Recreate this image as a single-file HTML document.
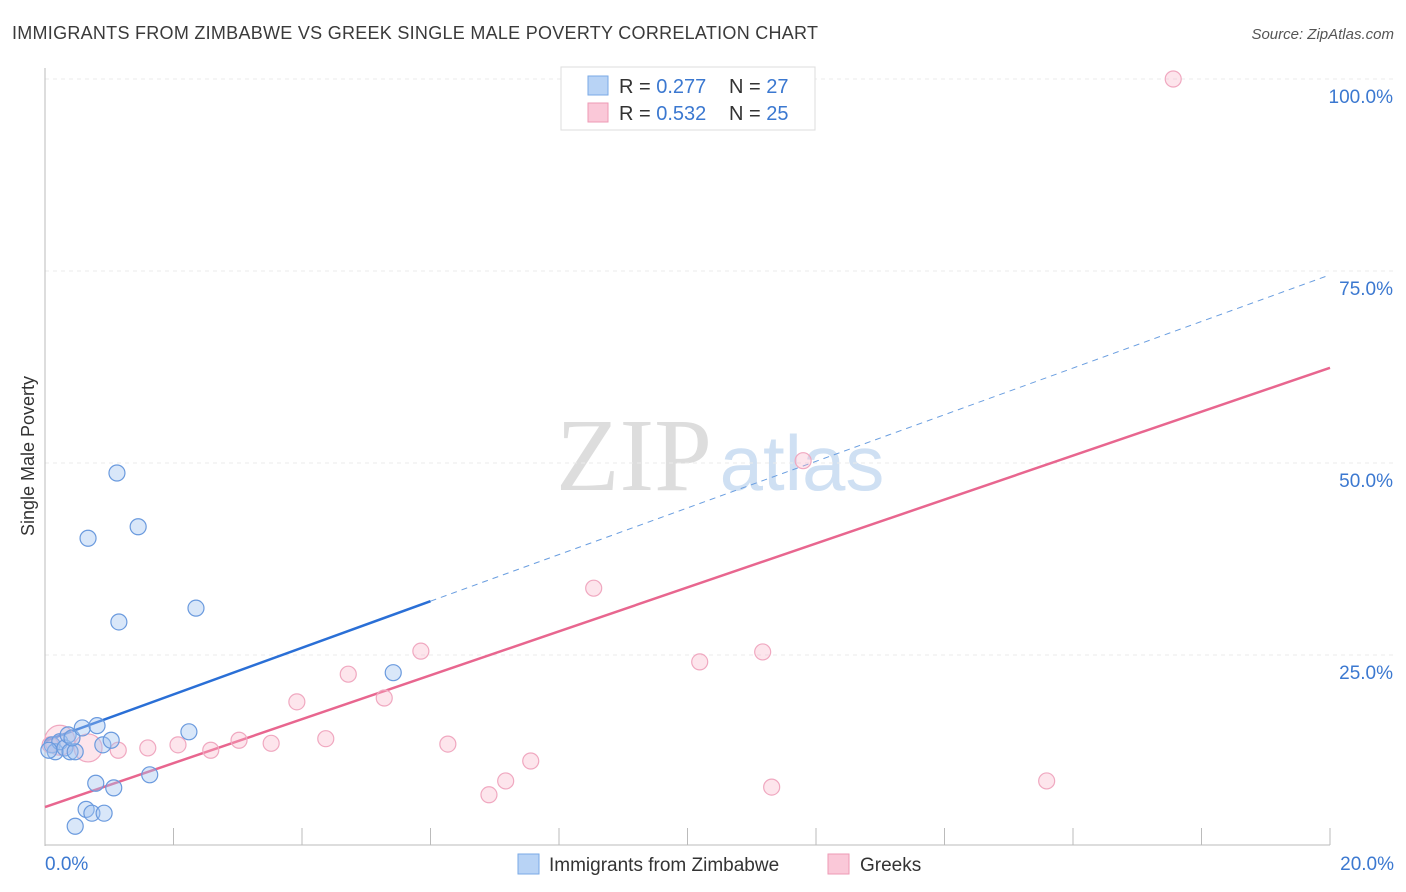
<!DOCTYPE html>
<html><head><meta charset="utf-8"><style>
body{margin:0;background:#fff;font-family:"Liberation Sans",sans-serif;}
svg{display:block}
</style></head><body>
<svg id="chart" width="1406" height="892" xmlns="http://www.w3.org/2000/svg">
<text x="12" y="39" font-size="18" fill="#3a3a3a" textLength="806">IMMIGRANTS FROM ZIMBABWE VS GREEK SINGLE MALE POVERTY CORRELATION CHART</text>
<text x="1394" y="39" font-size="15" fill="#555" font-style="italic" text-anchor="end">Source: ZipAtlas.com</text>
<text x="34" y="456" font-size="18" fill="#333" text-anchor="middle" transform="rotate(-90 34 456)">Single Male Poverty</text>
<g>
<text x="634" y="490" font-size="104" fill="#ddd" font-family="Liberation Serif,serif" text-anchor="middle">ZIP</text>
<text x="802" y="490" font-size="78" fill="#cfe0f3" text-anchor="middle">atlas</text>
</g>
<g id="grid"></g><g id="axes"></g><g id="trend"></g><g id="pts"></g>
<g>
<rect x="561" y="67" width="254" height="63" fill="#fff" stroke="#ddd"/>
<rect x="588" y="76" width="20" height="19" fill="#b8d3f5" stroke="#7aaae6"/>
<rect x="588" y="103" width="20" height="19" fill="#fac8d8" stroke="#ee9ab5"/>
<text x="619" y="93" font-size="20" fill="#333">R = <tspan fill="#3b78d0">0.277</tspan></text>
<text x="729" y="93" font-size="20" fill="#333">N = <tspan fill="#3b78d0">27</tspan></text>
<text x="619" y="120" font-size="20" fill="#333">R = <tspan fill="#3b78d0">0.532</tspan></text>
<text x="729" y="120" font-size="20" fill="#333">N = <tspan fill="#3b78d0">25</tspan></text>
</g>
<g>
<rect x="518" y="854" width="21" height="20" fill="#b8d3f5" stroke="#7aaae6"/>
<text x="549" y="871" font-size="19" fill="#333">Immigrants from Zimbabwe</text>
<rect x="828" y="854" width="21" height="20" fill="#fac8d8" stroke="#ee9ab5"/>
<text x="860" y="871" font-size="19" fill="#333">Greeks</text>
</g>
</svg>
<script>
const blueX=[0.11,0.16,0.23,0.31,0.39,0.47,0.36,0.42,0.58,0.81,0.90,0.67,1.12,1.45,1.15,2.35,5.42,2.24,1.03,1.63,0.79,1.07,0.64,0.73,0.92,0.47,0.06];
const blueY=[13.3,12.4,13.7,12.9,12.4,12.4,14.6,14.2,15.5,15.8,13.3,40.2,48.7,41.7,29.3,31.1,22.7,15.0,13.9,9.4,8.3,7.7,4.9,4.4,4.4,2.7,12.6];
const pinkX=[0.23,0.67,1.14,1.60,2.07,2.58,3.02,3.52,3.92,4.72,4.37,5.28,5.85,6.27,6.91,7.17,7.56,8.54,10.19,11.17,11.31,11.80,15.59,17.56,0.08];
const pinkY=[13.9,12.9,12.6,12.9,13.3,12.6,13.9,13.5,18.9,22.5,14.1,19.4,25.5,13.4,6.8,8.6,11.2,33.7,24.1,25.4,7.8,50.3,8.6,100,13.3];
const pinkR=[15,14,8,8,8,8,8,8,8,8,8,8,8,8,8,8,8,8,8,8,8,8,8,8,8];
const yTicks=[25,50,75,100];
const xTickLabels=["0.0%","20.0%"];
const blueTrend=[13.8,74.5], blueSolidEnd=6.0;
const pinkTrend=[5.2,62.4];
const NS="http://www.w3.org/2000/svg";
const sx=v=>45+v/20*1285, sy=v=>847-v/100*768;
function mk(p,t,a){const e=document.createElementNS(NS,t);for(const k in a)e.setAttribute(k,a[k]);p.appendChild(e);return e;}
const grid=document.getElementById('grid'),axes=document.getElementById('axes'),tr=document.getElementById('trend'),pts=document.getElementById('pts');
yTicks.forEach(t=>{
 const l=mk(grid,'line',{x1:45,x2:1394,y1:sy(t),y2:sy(t),stroke:'#ebebeb','stroke-dasharray':'4 4'});
 
 
 const tx=mk(grid,'text',{x:1393,y:sy(t)+24,'font-size':19,fill:'#3b78d0','text-anchor':'end'});
 tx.textContent=t.toFixed(1)+'%';
 
 
});
const ax=mk(axes,'line',{x1:45,x2:45,y1:68,y2:846,stroke:'#bbb'});


const bx=mk(axes,'line',{x1:45,x2:1330,y1:845,y2:845,stroke:'#bbb'});


for(let i=0;i<=10;i++){const x=sx(i*2);const t=mk(axes,'line',{x1:x,x2:x,y1:828,y2:845,stroke:'#bbb'});
 
 }
[[0,45,'start'],[20,1394,'end']].forEach((d,i)=>{const t=mk(axes,'text',{x:d[1],y:870,'font-size':19,fill:'#3b78d0','text-anchor':d[2]});t.textContent=xTickLabels[i];
 
 });
const ly=(tr0,x)=>tr0[0]+(tr0[1]-tr0[0])*x/20;
let l1=mk(tr,'line',{x1:sx(0),y1:sy(ly(blueTrend,0)),x2:sx(blueSolidEnd),y2:sy(ly(blueTrend,blueSolidEnd)),stroke:'#2a6fd6','stroke-width':2.5});


let l2=mk(tr,'line',{x1:sx(blueSolidEnd),y1:sy(ly(blueTrend,blueSolidEnd)),x2:sx(20),y2:sy(ly(blueTrend,20)),stroke:'#6a9ee0','stroke-width':1,'stroke-dasharray':'6 5'});


let l3=mk(tr,'line',{x1:sx(0),y1:sy(pinkTrend[0]),x2:sx(20),y2:sy(pinkTrend[1]),stroke:'#e8668f','stroke-width':2.5});


pinkX.forEach((x,i)=>{const c=mk(pts,'circle',{cx:sx(x),cy:sy(pinkY[i]),r:pinkR[i],fill:'rgba(248,180,200,0.35)',stroke:'#f0a8c0','stroke-width':1.2});
 
 });
blueX.forEach((x,i)=>{const c=mk(pts,'circle',{cx:sx(x),cy:sy(blueY[i]),r:8,fill:'rgba(160,195,240,0.4)',stroke:'#6a9ade','stroke-width':1.2});
 
 });
</script>
</body></html>
